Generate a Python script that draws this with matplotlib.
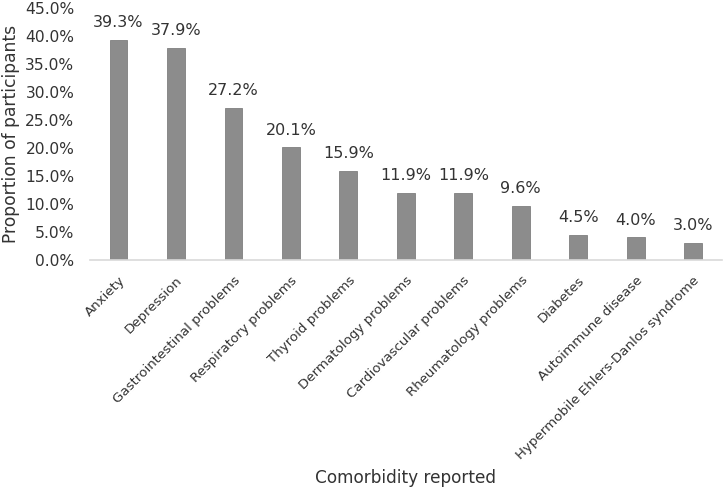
import numpy as np
import matplotlib.pyplot as plt
from matplotlib.ticker import PercentFormatter

categories = ['Anxiety', 'Depression', 'Gastrointestinal problems', 'Respiratory problems',
              'Thyroid problems', 'Dermatology problems', 'Cardiovascular problems',
              'Rheumatology problems', 'Diabetes', 'Autoimmune disease',
              'Hypermobile Ehlers-Danlos syndrome']
values = [39.3, 37.9, 27.2, 20.1, 15.9, 11.9, 11.9, 9.6, 4.5, 4.0, 3.0]

plt.rcParams['font.family'] = 'DejaVu Sans'

fig = plt.figure(figsize=(7.24, 4.94), dpi=100)
ax = fig.add_axes([0.124, 0.474, 0.873, 0.51])

x = np.arange(len(categories))
bars = ax.bar(x, values, width=0.31, color='#8c8c8c', edgecolor='#7f7f7f', linewidth=0.6, zorder=2)
for b, v in zip(bars, values):
    ax.annotate(f'{v:.1f}%', (b.get_x() + b.get_width() / 2, v), xytext=(0, 7),
                textcoords='offset points', ha='center', va='bottom', fontsize=11.5, color='#333333')

ax.set_xlim(-0.5, len(categories) - 0.5)
ax.set_ylim(0, 45)
ax.set_yticks(np.arange(0, 46, 5))
ax.yaxis.set_major_formatter(PercentFormatter(decimals=1))
ax.set_xticks(x)
ax.set_xticklabels(categories, rotation=45, ha='right', rotation_mode='anchor')
ax.tick_params(axis='both', length=0, colors='#333333')
ax.tick_params(axis='y', labelsize=11.2, pad=11)
ax.tick_params(axis='x', labelsize=9.6, pad=10)

for s in ['top', 'right', 'left']:
    ax.spines[s].set_visible(False)
ax.spines['bottom'].set_color('#d9d9d9')
ax.spines['bottom'].set_linewidth(1.2)

ax.set_ylabel('Proportion of participants', fontsize=12.3, color='#333333', labelpad=4)
fig.text(0.56, 0.032, 'Comorbidity reported', ha='center', va='center', fontsize=12.2, color='#333333')

plt.savefig('out.png', dpi=100)
